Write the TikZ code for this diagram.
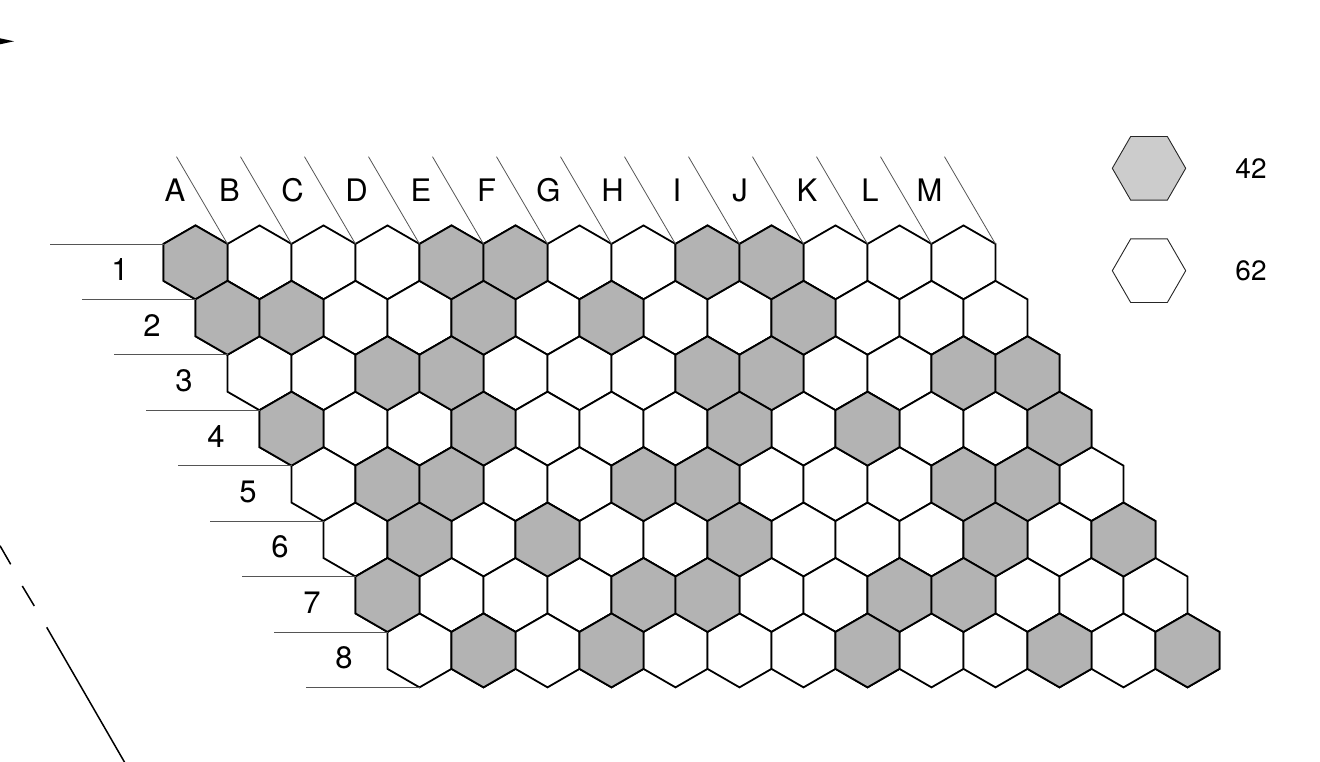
\documentclass[tikz,border=0pt]{standalone}
\usepackage{fontspec}
\setmainfont{TeX Gyre Heros}
\definecolor{cellgray}{HTML}{B3B3B3}
\definecolor{keygray}{HTML}{CCCCCC}
\definecolor{guide}{HTML}{555555}
\tikzset{
  hexcell/.style={draw=black, line width=1.8pt, fill=white},
  graycell/.style={hexcell, fill=cellgray},
  keyhex/.style={draw=black!85, line width=0.9pt},
  guideline/.style={draw=guide, line width=0.8pt},
  collabel/.style={font=\fontsize{31}{31}\selectfont, anchor=base, inner sep=0pt},
  rowlabel/.style={font=\fontsize{31}{31}\selectfont, anchor=base, inner sep=0pt},
  keylabel/.style={font=\fontsize{28}{28}\selectfont, inner sep=0pt},
  edgeline/.style={draw=black, line width=1.5pt}
}
\begin{document}
\begin{tikzpicture}[x=1pt,y=-1pt]
\useasboundingbox (0,0) rectangle (1320,762);
\def\hs{36.95}
% all cells
\foreach \r in {1,...,8}{
  \foreach \c in {1,...,13}{
    \pgfmathsetmacro\cx{195.5+64*(\c-1)+32*(\r-1)}
    \pgfmathsetmacro\cy{262.4+55.43*(\r-1)}
    \draw[hexcell] (\cx,\cy) +(90:\hs) -- +(30:\hs) -- +(-30:\hs) -- +(-90:\hs) -- +(-150:\hs) -- +(150:\hs) -- cycle;
  }
}
% gray cells
\foreach \r/\lst in {1/{1,5,6,9,10},2/{1,2,5,7,10},3/{3,4,8,9,12,13},4/{1,4,8,10,13},5/{2,3,6,7,11,12},6/{2,4,7,11,13},7/{1,5,6,9,10},8/{2,4,8,11,13}}{
  \foreach \c in \lst{
    \pgfmathsetmacro\cx{195.5+64*(\c-1)+32*(\r-1)}
    \pgfmathsetmacro\cy{262.4+55.43*(\r-1)}
    \draw[graycell] (\cx,\cy) +(90:\hs) -- +(30:\hs) -- +(-30:\hs) -- +(-90:\hs) -- +(-150:\hs) -- +(150:\hs) -- cycle;
  }
}
% column guide lines
\foreach \c in {1,...,13}{
  \pgfmathsetmacro\ex{227.5+64*(\c-1)}
  \coordinate (cg\c) at (\ex,244);
  \draw[guideline] (cg\c) -- ++(-51,-87.3);
}
% row guide lines
\foreach \i in {0,...,8}{
  \pgfmathsetmacro\ex{163.5+32*\i}
  \pgfmathsetmacro\ey{244+55.43*\i}
  \coordinate (rg\i) at (\ex,\ey);
  \draw[guideline] (rg\i) -- ++(-113.5,0);
}
% column labels
\foreach \l/\x [count=\k] in {A/175,B/229.5,C/292.5,D/356.5,E/421,F/486.5,G/548.5,H/612.5,I/677,J/740,K/807,L/870,M/929.5}{
  \node[collabel] (col\k) at (\x,201.6) {\l};
}
% row labels
\foreach \r in {1,...,8}{
  \pgfmathsetmacro\lx{120+32*(\r-1)}
  \pgfmathsetmacro\ly{280.8+55.43*(\r-1)}
  \node[rowlabel] (row\r) at (\lx,\ly) {\r};
}
% legend
\draw[keyhex, fill=keygray] (1149,168.3) +(0:36.7) -- +(60:36.7) -- +(120:36.7) -- +(180:36.7) -- +(240:36.7) -- +(300:36.7) -- cycle;
\draw[keyhex, fill=white] (1149,270.7) +(0:36.7) -- +(60:36.7) -- +(120:36.7) -- +(180:36.7) -- +(240:36.7) -- +(300:36.7) -- cycle;
\node[keylabel] (k42) at (1251,168.3) {42};
\node[keylabel] (k62) at (1251,270.7) {62};
% arrow tip at top-left
\fill[black] (0,38.3) -- (14,41.3) -- (0,44.3) -- cycle;
% left broken line
\draw[edgeline] (0,545.7) -- (10.7,564.3);
\draw[edgeline] (22.3,586) -- (34.3,606);
\draw[edgeline] (46.7,627.3) -- (125,763);
\end{tikzpicture}
\end{document}
